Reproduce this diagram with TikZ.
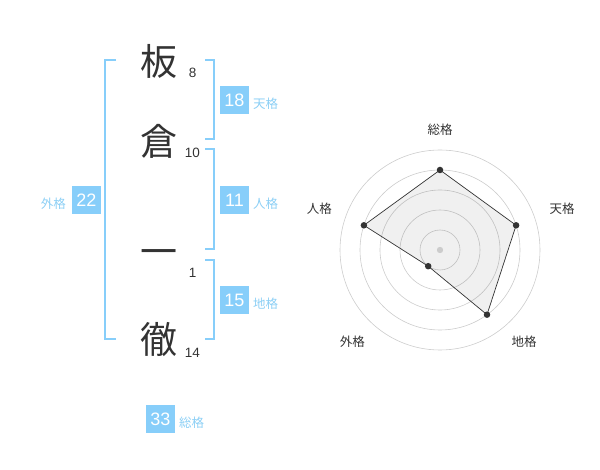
\documentclass[tikz,border=0pt]{standalone}
\usepackage{fontspec}
\setmainfont{Liberation Sans}
\newfontfamily\jp{Noto Sans CJK JP}
\definecolor{sky}{HTML}{87CEFA}
\definecolor{skytxt}{HTML}{8CCFF5}
\definecolor{ink}{HTML}{333333}
\definecolor{ring}{HTML}{CCCCCC}
\begin{document}
\begin{tikzpicture}[x=1pt,y=-1pt,
  kanji/.style={font=\jp\fontsize{37}{37}\selectfont, text=ink, inner sep=0pt},
  strokes/.style={font=\fontsize{13.5}{13.5}\selectfont, text=ink, inner sep=0pt},
  numbox/.style={fill=sky, text=white, minimum width=29pt, minimum height=28pt, inner sep=0pt, font=\fontsize{18}{18}\selectfont},
  kaku/.style={font=\jp\fontsize{12.5}{12.5}\selectfont, text=skytxt, inner sep=0pt},
  brk/.style={draw=sky, line width=2pt},
  axlab/.style={font=\jp\fontsize{12.5}{12.5}\selectfont, text=ink, inner sep=0pt},
  dot/.style={circle, fill=ink, inner sep=0pt, minimum size=6.5pt}
]
\useasboundingbox (0,0) rectangle (600,470);
% characters
\node[kanji] (c1) at (159.3,61) {板};
\node[kanji] (c2) at (159.3,141) {倉};
\node[kanji] (c3) at (159.3,258) {一};
\node[kanji] (c4) at (159.3,340) {徹};
\node[strokes] (n1) at (192.7,73) {8};
\node[strokes] (n2) at (192.3,153) {10};
\node[strokes] (n3) at (192.7,273) {1};
\node[strokes] (n4) at (192.3,353) {14};
% brackets
\draw[brk] (116,60) -- (105,60) -- (105,339) -- (116,339);
\draw[brk] (205,60) -- (214.3,60) -- (214.3,139.3) -- (205,139.3);
\draw[brk] (205,149.3) -- (214.3,149.3) -- (214.3,249.3) -- (205,249.3);
\draw[brk] (205,260) -- (214.3,260) -- (214.3,339.3) -- (205,339.3);
% boxes
\node[numbox] (b18) at (234.5,100) {18};
\node[kaku, anchor=west] (k18) at (253,104) {天格};
\node[numbox] (b11) at (234.5,200) {11};
\node[kaku, anchor=west] (k11) at (253,204) {人格};
\node[numbox] (b15) at (234.5,300) {15};
\node[kaku, anchor=west] (k15) at (253,304) {地格};
\node[numbox] (b22) at (86.5,200) {22};
\node[kaku, anchor=east] (k22) at (66,204) {外格};
\node[numbox] (b33) at (160.5,419) {33};
\node[kaku, anchor=west] (k33) at (179,423) {総格};
% radar
\coordinate (O) at (440,250);
\foreach \r in {20,40,60,80,100} \draw[ring, line width=0.6pt] (O) circle (\r);
\path (O) ++(0,-80) coordinate (pS)
      (O) ++(76.1,-24.7) coordinate (pT)
      (O) ++(47.0,64.7) coordinate (pC)
      (O) ++(-11.8,16.2) coordinate (pG)
      (O) ++(-76.1,-24.7) coordinate (pJ);
\fill[black, fill opacity=0.06] (pS) -- (pT) -- (pC) -- (pG) -- (pJ) -- cycle;
\draw[ink, line width=0.7pt] (pS) -- (pT) -- (pC) -- (pG) -- (pJ) -- cycle;
\foreach \p in {pS,pT,pC,pG,pJ} \node[dot] at (\p) {};
\fill[ring] (O) circle (3.2);
\node[axlab] (aS) at (440,130) {総格};
\node[axlab] (aT) at (562,208.5) {天格};
\node[axlab] (aC) at (524,342) {地格};
\node[axlab] (aG) at (352.3,342) {外格};
\node[axlab] (aJ) at (319.3,208.5) {人格};
\end{tikzpicture}
\end{document}
